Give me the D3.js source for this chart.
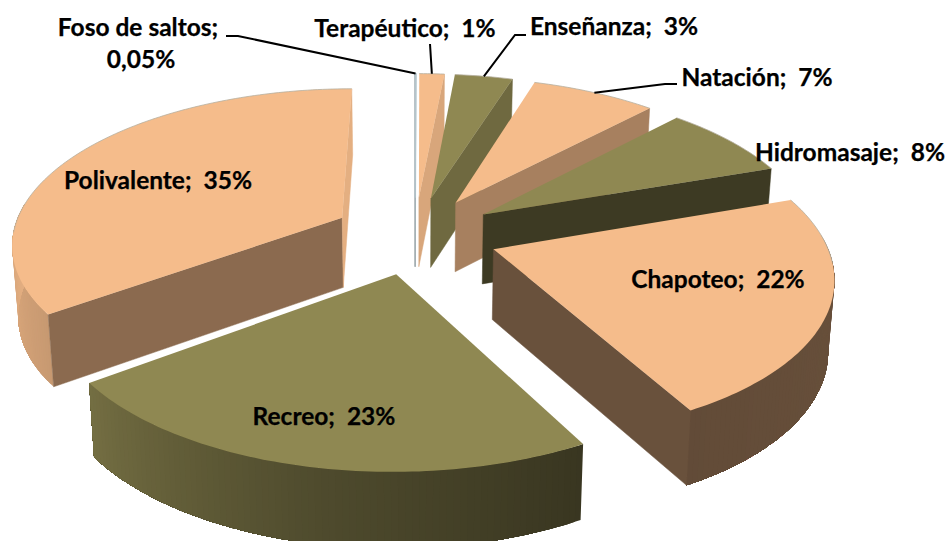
<!DOCTYPE html>
<html><head><meta charset="utf-8">
<script src="https://cdn.jsdelivr.net/npm/d3@7"></script>
<style>html,body{margin:0;padding:0;background:#fff}svg{display:block}
text{font-family:Lato,Carlito,sans-serif;font-weight:700;font-size:24.5px;fill:#000;stroke:#000;stroke-width:.25px;white-space:pre}</style>
</head><body><svg id="c" width="947" height="541"></svg>
<script>
// Data
const categories = ["Foso de saltos","Terapéutico","Enseñanza","Natación","Hidromasaje","Chapoteo","Recreo","Polivalente"];
const shares = [0.05,1.45,3.35,7.2,7.65,22.4,22.8,35.1];
const percentLabels = ["0,05%","1%","3%","7%","8%","22%","23%","35%"];
// Styles
const faceColors = ["#B4C5CC","#F5BC8B","#8F8852","#F5BC8B","#8F8852","#F5BC8B","#8F8852","#F5BC8B"];
const drawOrder = [7,0,1,2,3,4,5,6];
const labelAnchors = [[138,36],[405,37],[614,35],[757,86],[850,161],[718,288],[324,425],[158,189]];
const leaderElbows = [[[226,36],[238,36]],[[430,44]],[[526,35],[515,35]],[[677,84],[665,84]],null,null,null,null];

// Projection
const cx=415, cy=235, R=330, E=83, focal=2147, tilt=0.466, H=70;
const TAU=2*Math.PI;
function project(x,y,low){
  const s=1/(1+y/focal);
  const X=cx+x*s*(low?0.985:1);
  let Y=cy-tilt*y*s;
  if(low) Y+=H*(0.6+0.4*s);
  return [X,Y];
}
const pie=d3.pie().sort(null).startAngle(0).endAngle(TAU);
const arcs=pie(shares);
const outerShade=d3.scaleLinear().domain([0,90,152,190,235,270,360]).range([.5,.43,.4,.55,.82,.93,.95]).clamp(true);
const radialShade=d3.scaleLinear().domain([90,108,134,145,164,200,242,360]).range([.93,.77,.68,.55,.4,.4,.43,.5]).clamp(true);
const shade=(c,k)=>{const o=d3.rgb(c);return d3.rgb(o.r*k,o.g*k,o.b*k).formatHex();};
const line=d3.line();
const svg=d3.select("#c");
const deg=r=>r*180/Math.PI;

function plane(d,ang,r){
  const m=(d.startAngle+d.endAngle)/2;
  return [E*Math.sin(m)+r*Math.sin(ang),E*Math.cos(m)+r*Math.cos(ang)];
}
function area(p){let a=0;p.forEach((q,i)=>{const n=p[(i+1)%p.length];a+=q[0]*n[1]-n[0]*q[1];});return a/2;}

drawOrder.forEach(i=>{
  const d=arcs[i], col=faceColors[i], g=svg.append("g");
  const span=d.endAngle-d.startAngle, n=Math.max(2,Math.ceil(deg(span)));
  const angs=d3.range(n+1).map(k=>d.startAngle+span*k/n);
  // outer wall: each layer covers the rest of the wall, so that no seams show
  const front=angs.filter(a=>Math.cos(a)<0.1);
  front.slice(0,-1).forEach((a,k)=>{
    const rest=front.slice(k);
    const tops=rest.map(t=>project(...plane(d,t,R)));
    const lows=rest.map(t=>project(...plane(d,t,R),true)).reverse();
    g.append("path").attr("d",line(tops.concat(lows))+"Z").attr("fill",shade(col,outerShade(deg(a))));
  });
  // radial walls
  [[d.startAngle,-90,1],[d.endAngle,90,-1]].forEach(([a,off,sgn])=>{
    const ap=plane(d,a,0), rp=plane(d,a,R);
    const poly=[project(...ap),project(...rp),project(...rp,true),project(...ap,true)];
    if(area(poly)*sgn>0) return;
    const nd=(deg(a)+off+360)%360;
    const c=shade(col,radialShade(nd));
    g.append("path").attr("d",line(poly)+"Z").attr("fill",c).attr("stroke",c).attr("stroke-width",.5);
  });
  // top face
  const top=[project(...plane(d,0,0))].concat(angs.map(a=>project(...plane(d,a,R))));
  g.append("path").attr("d",line(top)+"Z").attr("fill",col)
    .attr("stroke",i===0?col:"none").attr("stroke-width",1.2);
  // thin grey edge along the far part of the rim
  const back=angs.filter(a=>Math.cos(a)>-0.1);
  const runs=[back.filter(a=>a<Math.PI),back.filter(a=>a>Math.PI)];
  runs.forEach(r=>{
    if(r.length<2||i===0) return;
    g.append("path").attr("d",line(r.map(a=>project(...plane(d,a,R))))).attr("fill","none")
      .attr("stroke","#B5AF9E").attr("stroke-width",.8);
  });
});

// leader lines
leaderElbows.forEach((el,i)=>{
  if(!el) return;
  const d=arcs[i], m=(d.startAngle+d.endAngle)/2;
  const pts=el.concat([project(...plane(d,m,R))]);
  svg.append("path").attr("d",line(pts)).attr("fill","none").attr("stroke","#000").attr("stroke-width",2);
});

// labels
categories.forEach((c,i)=>{
  const [x,y]=labelAnchors[i];
  if(i===0){
    svg.append("text").attr("x",x).attr("y",y).attr("text-anchor","middle").text(c+";");
    svg.append("text").attr("x",x+3).attr("y",y+32).attr("text-anchor","middle").text(percentLabels[i]);
  } else {
    svg.append("text").attr("x",x).attr("y",y).attr("text-anchor","middle").text(c+";  "+percentLabels[i]);
  }
});
</script></body></html>
